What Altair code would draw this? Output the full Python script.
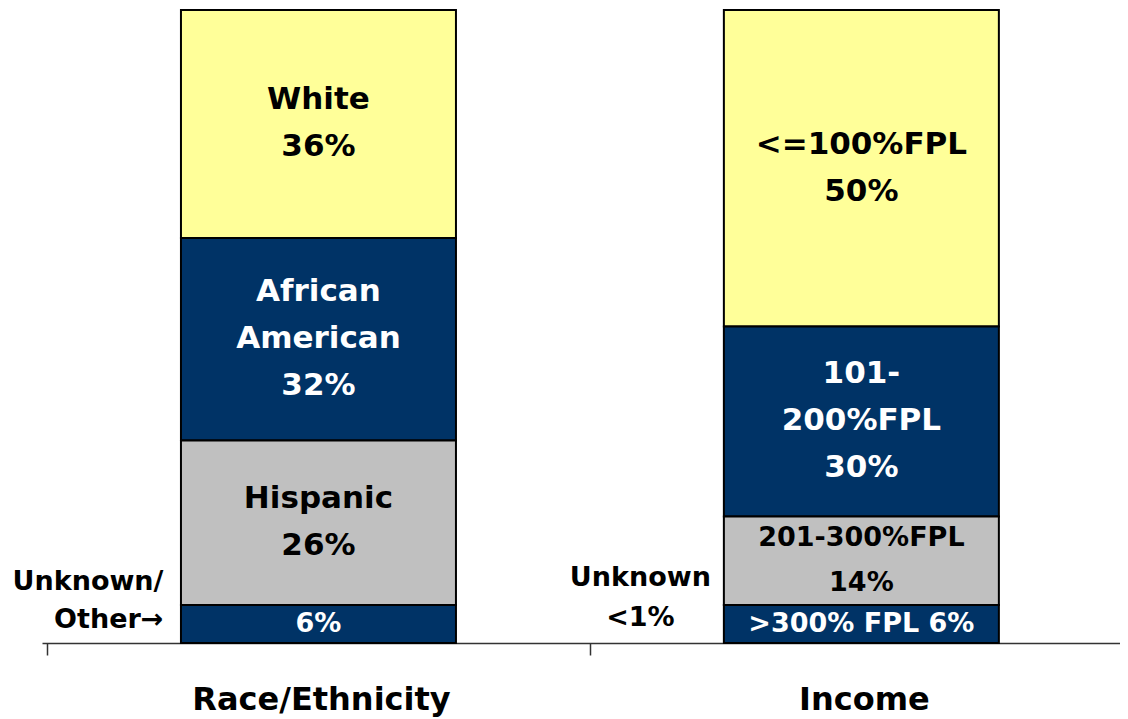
import altair as alt
import pandas as pd

# ---- data (top segment first) ----
groups = ["Race/Ethnicity", "Income"]

race_labels = ["White\n36%", "African\nAmerican\n32%", "Hispanic\n26%", "6%"]
race_values = [36, 32, 26, 6]

income_labels = ["<=100%FPL\n50%", "101-\n200%FPL\n30%", "201-300%FPL\n14%", ">300% FPL 6%"]
income_values = [50, 30, 14, 6]

segment_fill = ["#FFFF99", "#003366", "#C0C0C0", "#003366"]
segment_text = ["black", "white", "black", "white"]
race_label_size = ["big", "big", "big", "small"]
income_label_size = ["big", "big", "small", "small"]

notes = ["Unknown/\nOther\u2192", "Unknown\n<1%"]

# ---- build table ----
rows = []
for gi, (labels, values, sizes) in enumerate(
    [(race_labels, race_values, race_label_size),
     (income_labels, income_values, income_label_size)]):
    top = sum(values)
    for i, (lab, v, sz) in enumerate(zip(labels, values, sizes)):
        y1 = top
        y0 = top - v
        top = y0
        rows.append({
            "group": groups[gi], "pos": gi + 0.5, "y0": y0, "y1": y1,
            "mid": (y0 + y1) / 2, "label": lab, "fill": segment_fill[i],
            "tc": segment_text[i], "size": sz,
            "note": notes[gi] if i == len(labels) - 1 else "",
        })
df = pd.DataFrame(rows)

W, H = 1078, 633
STEP = 548
XMAX = W / STEP
FONT = "DejaVu Sans"
PPU = H / 100.0  # pixels per data unit on y

label_expr = "datum.value == 0 ? '%s' : '%s'" % (groups[0], groups[1])

xenc = alt.X("pos:Q", title=None,
             scale=alt.Scale(domain=[0, XMAX], nice=False, zero=False),
             axis=alt.Axis(values=[0, 1], labelExpr=label_expr, labelOffset=STEP / 2,
                           grid=False, tickSize=12, tickWidth=1.5, tickColor="#333",
                           domainColor="#333", domainWidth=1.5,
                           labelFont=FONT, labelFontWeight="bold", labelFontSize=32,
                           labelColor="black", labelPadding=29, labelFlush=False,
                           labelLimit=0, labelOverlap=False, labelBound=False,
                           labelAlign="center"))
yscale = alt.Scale(domain=[0, 100], nice=False, zero=True)


def centered(field, lh):
    # shift a multi-line block up so that it is centred on its anchor
    return "datum.mid + (length(split(datum.%s, '\\n')) - 1) * %f / 2 / %f" % (field, lh, PPU)


base = alt.Chart(df)

bars = base.mark_bar(size=275, stroke="black", strokeWidth=2).encode(
    x=xenc,
    y=alt.Y("y0:Q", scale=yscale, axis=None),
    y2="y1:Q",
    fill=alt.Fill("fill:N", scale=None),
)

big = base.transform_filter(alt.datum.size == "big").transform_calculate(
    ty=centered("label", 47)).mark_text(
    font=FONT, fontWeight="bold", fontSize=31, lineBreak="\n", lineHeight=47,
    baseline="middle", align="center").encode(
    x=xenc, y=alt.Y("ty:Q", scale=yscale, axis=None),
    text="label:N", color=alt.Color("tc:N", scale=None))

small = base.transform_filter(alt.datum.size == "small").transform_calculate(
    ty=centered("label", 45)).mark_text(
    font=FONT, fontWeight="bold", fontSize=27, lineBreak="\n", lineHeight=45,
    baseline="middle", align="center").encode(
    x=xenc, y=alt.Y("ty:Q", scale=yscale, axis=None),
    text="label:N", color=alt.Color("tc:N", scale=None))

note_left = base.transform_filter(alt.datum.pos == 0.5).transform_filter(
    alt.datum.note != "").transform_calculate(ty=centered("note", 38)).mark_text(
    font=FONT, fontWeight="bold", fontSize=27, lineBreak="\n", lineHeight=38,
    baseline="middle", align="right", dx=-155, dy=-23, color="black").encode(
    x=xenc, y=alt.Y("ty:Q", scale=yscale, axis=None), text="note:N")

note_right = base.transform_filter(alt.datum.pos == 1.5).transform_filter(
    alt.datum.note != "").transform_calculate(ty=centered("note", 40)).mark_text(
    font=FONT, fontWeight="bold", fontSize=27, lineBreak="\n", lineHeight=40,
    baseline="middle", align="center", dx=-221, dy=-26, color="black").encode(
    x=xenc, y=alt.Y("ty:Q", scale=yscale, axis=None), text="note:N")

chart = alt.layer(bars, big, small, note_left, note_right).properties(
    width=W, height=H,
    autosize=alt.AutoSizeParams(type="none"),
    padding={"left": 34, "top": 2, "right": 0, "bottom": 74},
    background="white",
).configure_view(stroke=None)

chart.save("out.html", embed_options={"renderer": "svg", "actions": False})
